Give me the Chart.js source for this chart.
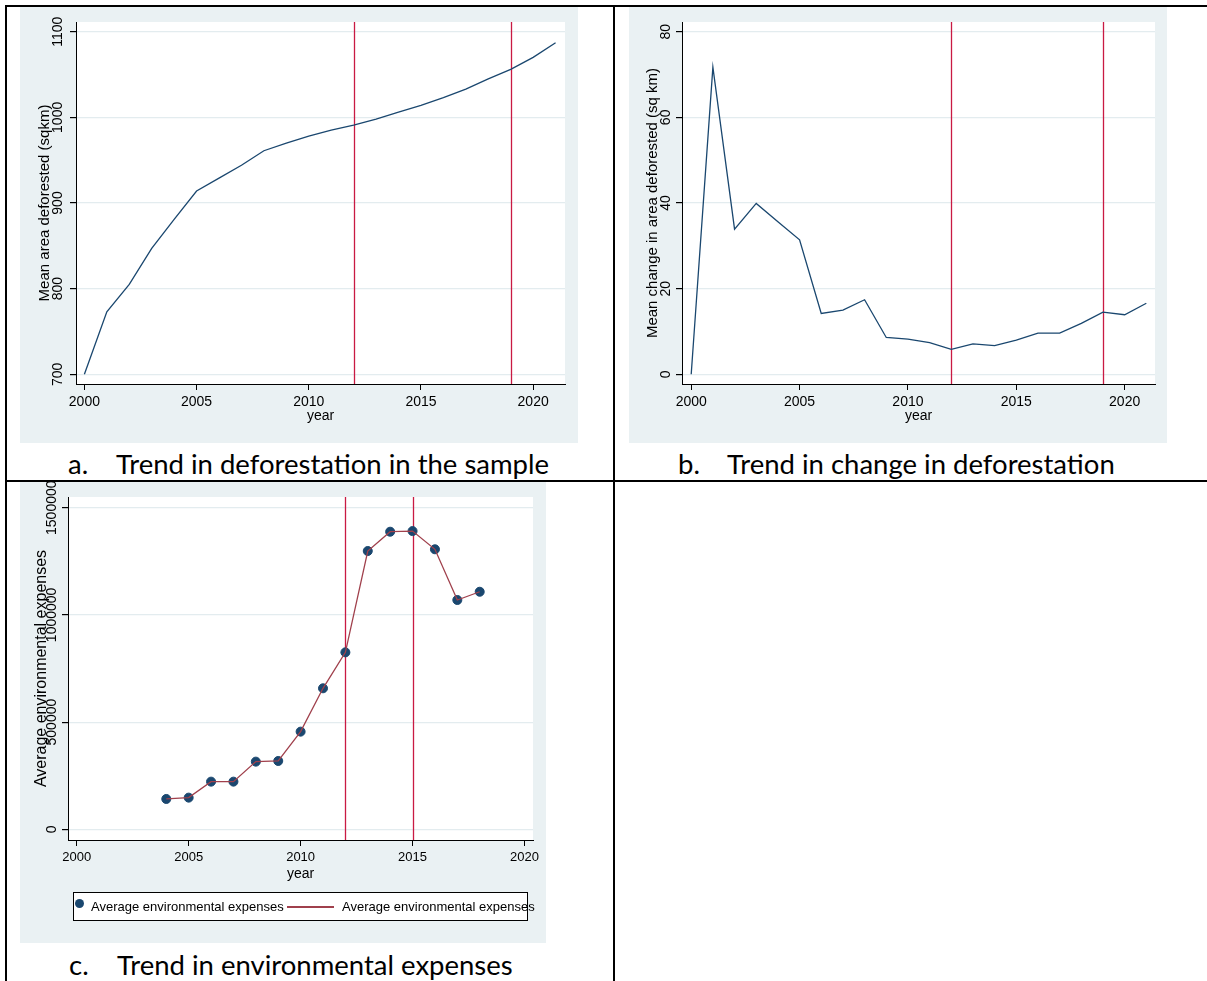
<!DOCTYPE html>
<html>
<head>
<meta charset="utf-8">
<script src="https://cdn.jsdelivr.net/npm/chart.js@4/dist/chart.umd.min.js"></script>
<style>
    body { margin: 0; background: #fff; width: 1207px; height: 981px; position: relative; overflow: hidden; font-family: "Liberation Sans", Arial, sans-serif; }
    .rule { position: absolute; background: #000; }
    .panel { position: absolute; background: #eaf1f3; overflow: hidden; }
    .panel canvas { display: block; }
    .cap { position: absolute; font-family: Lato, sans-serif; font-size: 27.5px; line-height: 28px; color: #000; white-space: nowrap; }
    .legend { position: absolute; left: 73px; top: 892px; width: 455px; height: 29px; box-sizing: border-box; border: 1px solid #000; background: #fff; }
    .legend span { position: absolute; white-space: nowrap; font-size: 13px; line-height: 13px; color: #000; }
</style>
</head>
<body>
<div class="rule" style="left:5px;top:5px;width:1202px;height:2px"></div>
<div class="rule" style="left:5px;top:5px;width:2px;height:976px"></div>
<div class="rule" style="left:613px;top:5px;width:2px;height:976px"></div>
<div class="rule" style="left:5px;top:480px;width:1202px;height:2px"></div>

<div class="panel" style="left:20px;top:7px;width:558px;height:436px"><canvas id="chartA" width="558" height="436"></canvas></div>
<div class="panel" style="left:629px;top:7px;width:538px;height:436px"><canvas id="chartB" width="538" height="436"></canvas></div>
<div class="panel" style="left:20px;top:482px;width:526px;height:461px"><canvas id="chartC" width="526" height="461"></canvas></div>

<div class="legend">
    <span style="left:1px;top:6px;width:9px;height:9px;border-radius:50%;background:#1a476f"></span>
    <span style="left:17px;top:7px">Average environmental expenses</span>
    <span style="left:213px;top:13px;width:47px;height:2px;background:#a0404c"></span>
    <span style="left:268px;top:7px">Average environmental expenses</span>
</div>

<div class="cap" style="left:68px;top:450px">a.</div>
<div class="cap" style="left:116px;top:450px">Trend in deforestation in the sample</div>
<div class="cap" style="left:678px;top:450px">b.</div>
<div class="cap" style="left:727px;top:450px">Trend in change in deforestation</div>
<div class="cap" style="left:69px;top:951px">c.</div>
<div class="cap" style="left:117px;top:951px">Trend in environmental expenses</div>

<script>
// data
const yearsAB = [2000, 2001, 2002, 2003, 2004, 2005, 2006, 2007, 2008, 2009, 2010,
                 2011, 2012, 2013, 2014, 2015, 2016, 2017, 2018, 2019, 2020, 2021];
const areaDeforested = [700, 773, 805, 847, 881, 914, 929, 944, 961, 970, 978,
                        985, 991, 998, 1006, 1014, 1023, 1033, 1045, 1056, 1070, 1087];
const changeDeforested = [0, 71.7, 33.9, 39.9, 35.6, 31.4, 14.2, 15.0, 17.4, 8.6, 8.2,
                          7.4, 5.8, 7.1, 6.7, 8.0, 9.6, 9.6, 11.9, 14.5, 13.9, 16.6];
const yearsC = [2004, 2005, 2006, 2007, 2008, 2009, 2010, 2011, 2012, 2013, 2014, 2015, 2016, 2017, 2018];
const envExpenses = [141500, 147700, 222300, 222300, 315600, 318700, 455500, 657600,
                     825400, 1298000, 1388000, 1391000, 1306000, 1069500, 1108000];

const xTicks = [2000, 2005, 2010, 2015, 2020];
const yTicksA = [700, 800, 900, 1000, 1100];
const yTicksB = [0, 20, 40, 60, 80];
const yTicksC = [0, 500000, 1000000, 1500000];
const refLinesAB = [2012, 2019];
const refLinesC = [2012, 2015];

const NAVY = '#1a476f';
const RED = '#c91a43';
const MAROON = '#a0404c';
const GRID = '#e3ecef';
const FONT = '"Liberation Sans", Arial, sans-serif';

const toPoints = (xs, ys) => xs.map((x, i) => ({ x: x, y: ys[i] }));

// stata look: white plot region, xlines under the data, rotated y labels
const stataDecor = {
    id: 'stataDecor',
    beforeDraw(chart) {
        const { ctx, chartArea: a } = chart;
        ctx.save();
        ctx.fillStyle = '#fff';
        ctx.fillRect(a.left, a.top, a.right - a.left, a.bottom - a.top);
        ctx.restore();
    },
    beforeDatasetsDraw(chart, args, opts) {
        const { ctx, chartArea: a } = chart;
        const x = chart.scales.x;
        ctx.save();
        ctx.strokeStyle = RED;
        ctx.lineWidth = 1.3;
        (opts.refLines || []).forEach(v => {
            const px = Math.round(x.getPixelForValue(v)) + 0.5;
            ctx.beginPath();
            ctx.moveTo(px, a.top);
            ctx.lineTo(px, a.bottom);
            ctx.stroke();
        });
        ctx.restore();
    },
    afterDraw(chart, args, opts) {
        const { ctx, chartArea: a } = chart;
        const y = chart.scales.y;
        ctx.save();
        ctx.fillStyle = '#000';
        ctx.font = (opts.tickSize || 13) + 'px ' + FONT;
        ctx.textAlign = 'center';
        ctx.textBaseline = 'middle';
        y.ticks.forEach(t => {
            ctx.save();
            ctx.translate(a.left - (opts.tickGap || 17), y.getPixelForValue(t.value));
            ctx.rotate(-Math.PI / 2);
            ctx.fillText(String(t.value), 0, 0);
            ctx.restore();
        });
        ctx.restore();
    }
};

function makeChart(id, datasets, p) {
    return new Chart(document.getElementById(id), {
        type: 'line',
        data: { datasets: datasets },
        plugins: [stataDecor],
        options: {
            responsive: false,
            animation: false,
            events: [],
            layout: { padding: { top: 15, right: p.padRight, bottom: p.padBottom, left: 0 } },
            plugins: {
                legend: { display: false },
                tooltip: { enabled: false },
                stataDecor: { refLines: p.refLines, tickSize: p.yTickSize, tickGap: p.yTickGap }
            },
            scales: {
                x: {
                    type: 'linear',
                    min: p.xMin,
                    max: p.xMax,
                    afterBuildTicks: s => { s.ticks = xTicks.map(v => ({ value: v })); },
                    afterFit: s => { s.height = p.xHeight; },
                    grid: { drawOnChartArea: false, drawTicks: true, tickLength: 6, tickColor: '#000' },
                    border: { color: '#000', width: 1 },
                    ticks: { color: '#000', font: { family: FONT, size: p.xTickSize }, padding: 4, maxRotation: 0, callback: v => String(v) },
                    title: { display: true, text: 'year', color: '#000', font: { family: FONT, size: 14 }, padding: { top: 0, bottom: 0 } }
                },
                y: {
                    type: 'linear',
                    min: p.yMin,
                    max: p.yMax,
                    afterBuildTicks: s => { s.ticks = p.yTicks.map(v => ({ value: v })); },
                    afterFit: s => { s.width = p.yWidth; },
                    grid: { color: GRID, lineWidth: 1.2, drawTicks: true, tickLength: 6, tickColor: '#000' },
                    border: { color: '#000', width: 1 },
                    ticks: { display: false },
                    title: { display: true, text: p.yTitle, color: '#000', font: { family: FONT, size: p.yTitleSize }, padding: { top: p.yTitlePad, bottom: 0 } }
                }
            }
        }
    });
}

makeChart('chartA', [{
    data: toPoints(yearsAB, areaDeforested),
    borderColor: NAVY, borderWidth: 1.3, pointRadius: 0, tension: 0
}], {
    xMin: 1999.626, xMax: 2021.42, yMin: 688.7, yMax: 1111.3, yTicks: yTicksA,
    yWidth: 56, xHeight: 41, padRight: 13, padBottom: 18, xTickSize: 14,
    yTitle: 'Mean area deforested (sqkm)', yTitleSize: 15, yTitlePad: 16,
    yTickSize: 14, yTickGap: 18, refLines: refLinesAB
});

makeChart('chartB', [{
    data: toPoints(yearsAB, changeDeforested),
    borderColor: NAVY, borderWidth: 1.3, pointRadius: 0, tension: 0
}], {
    xMin: 1999.575, xMax: 2021.40, yMin: -2.27, yMax: 82.27, yTicks: yTicksB,
    yWidth: 53, xHeight: 41, padRight: 12, padBottom: 18, xTickSize: 14,
    yTitle: 'Mean change in area deforested (sq km)', yTitleSize: 15, yTitlePad: 15,
    yTickSize: 14, yTickGap: 16, refLines: refLinesAB
});

makeChart('chartC', [{
    type: 'scatter',
    data: toPoints(yearsC, envExpenses),
    backgroundColor: NAVY, borderColor: NAVY, pointRadius: 4.5, showLine: false, order: 2
}, {
    data: toPoints(yearsC, envExpenses),
    borderColor: MAROON, borderWidth: 1.3, pointRadius: 0, tension: 0, order: 1
}], {
    xMin: 1999.61, xMax: 2020.38, yMin: -49900, yMax: 1549900, yTicks: yTicksC,
    yWidth: 48, xHeight: 43, padRight: 13, padBottom: 60, xTickSize: 13,
    yTitle: 'Average environmental expenses', yTitleSize: 16, yTitlePad: 12,
    yTickSize: 14, yTickGap: 16, refLines: refLinesC
});
</script>
</body>
</html>
